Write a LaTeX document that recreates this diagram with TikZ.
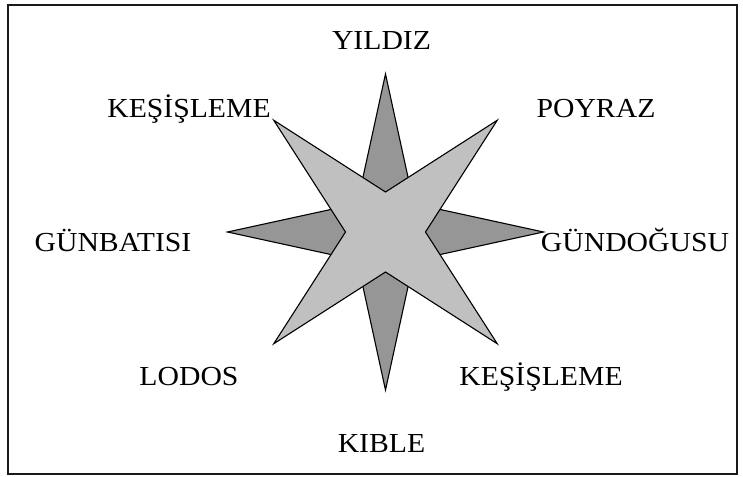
\documentclass[tikz,border=0pt]{standalone}
\usepackage{fontspec}
\setmainfont[FakeStretch=1.08]{Liberation Serif}
\definecolor{rosedark}{HTML}{969696}
\definecolor{roselight}{HTML}{C0C0C0}
\definecolor{roseframe}{HTML}{1A1A1A}

\begin{document}
\begin{tikzpicture}[x=1pt,y=1pt]
  \tikzstyle{frame}=[draw=roseframe, line width=1.6pt]
  \tikzstyle{mainpoints}=[fill=rosedark, draw=black, line width=1.1pt]
  \tikzstyle{halfpoints}=[fill=roselight, draw=black, line width=1.1pt]
  \tikzstyle{wind}=[font=\fontsize{27.5}{32}\selectfont, anchor=base, inner sep=0pt]

  \path[use as bounding box] (-385.5,-244) rectangle (357.5,232);
  \draw[frame] (-377.5,-242) rectangle (351.5,227);

  % Rose: cardinal points behind, intercardinal points on top.
  \draw[mainpoints] (90:158) -- (45:40) -- (0:158) -- (-45:40)
    -- (-90:158) -- (-135:40) -- (180:158) -- (135:40) -- cycle;
  \draw[halfpoints] (45:158) -- (0:40) -- (-45:158) -- (-90:40)
    -- (-135:158) -- (180:40) -- (135:158) -- (90:40) -- cycle;

  % Wind names.
  \node[wind] (yildiz) at (-4,182) {YILDIZ};
  \node[wind] (poyraz) at (210.5,114.7) {POYRAZ};
  \node[wind] (kesislemenw) at (-196.5,114.7) {KEŞİŞLEME};
  \node[wind] (gunbatisi) at (-272.5,-19.7) {GÜNBATISI};
  \node[wind] (gundogusu) at (249.5,-19.7) {GÜNDOĞUSU};
  \node[wind] (lodos) at (-196.5,-153) {LODOS};
  \node[wind] (kesislemese) at (155.5,-153) {KEŞİŞLEME};
  \node[wind] (kible) at (-4,-220.3) {KIBLE};
\end{tikzpicture}
\end{document}
